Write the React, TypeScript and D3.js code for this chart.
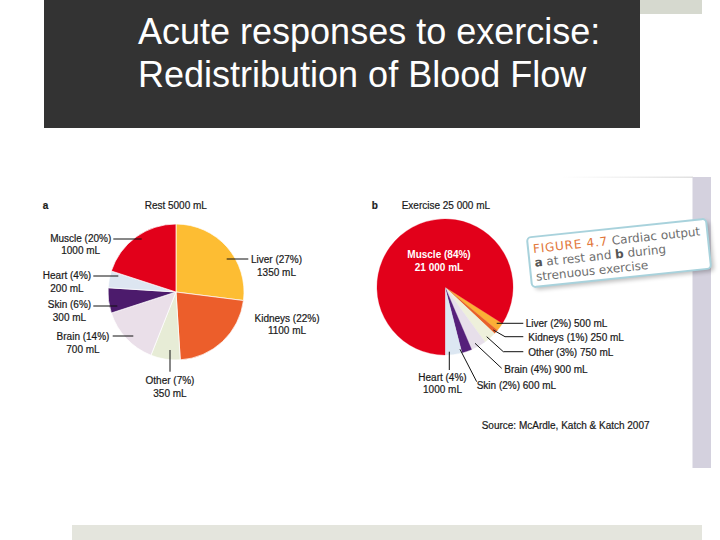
import React from 'react';
import * as d3 from 'd3';

// ---------- data ----------
const organs = ['Liver', 'Kidneys', 'Other', 'Brain', 'Skin', 'Heart', 'Muscle'];
const restFlow = [1350, 1100, 350, 700, 300, 200, 1000];
const restPct = [27, 22, 7, 14, 6, 4, 20];
const exerciseFlow = [500, 250, 750, 900, 600, 1000, 21000];
const exercisePct = [2, 1, 3, 4, 2, 4, 84];
const restTotal = 5000;
const exerciseTotal = 25000;
const restColors = ['#FDBD33', '#EC5E2B', '#E7ECD6', '#EADFE9', '#4C1B6C', '#DDE6F1', '#E2001A'];
const exerciseColors = ['#FBAF36', '#E8612A', '#EEF0DB', '#E7DFEA', '#55207A', '#DCE7F2', '#E2001A'];

const titleLines = ['Acute responses to exercise:', 'Redistribution of Blood Flow'];
const sourceText = 'Source: McArdle, Katch & Katch 2007';

// ---------- annotation layout ----------
type Pt = [number, number];
const restLabelLayout: { x: number; y: number; line: Pt[] | null }[] = [
  { x: 276.5, y: 263.3, line: [[226.7, 259], [248.3, 259]] },
  { x: 287, y: 321.7, line: null },
  { x: 170, y: 384.3, line: [[170, 350], [170, 371.7]] },
  { x: 83, y: 340, line: [[112.7, 336], [133.3, 336]] },
  { x: 69.5, y: 308.3, line: [[93.3, 306], [117.3, 306]] },
  { x: 67, y: 279.3, line: [[93.3, 276], [118.3, 276]] },
  { x: 80.7, y: 241.7, line: [[113.3, 239], [141.7, 239]] },
];
const exLabelLayout: { x: number; y: number; anchor: string; twoLine: boolean; line: Pt[] | null }[] = [
  { x: 525.7, y: 326.7, anchor: 'start', twoLine: false, line: [[496.7, 323.3], [523.3, 323.3]] },
  { x: 528.3, y: 340.7, anchor: 'start', twoLine: false, line: [[493.3, 330], [505, 336.7], [523.3, 336.7]] },
  { x: 528.3, y: 355.7, anchor: 'start', twoLine: false, line: [[486.7, 336.7], [503.3, 351.7], [523.3, 351.7]] },
  { x: 504.3, y: 372.7, anchor: 'start', twoLine: false, line: [[475, 343.3], [501.7, 368.3]] },
  { x: 476.7, y: 389, anchor: 'start', twoLine: false, line: [[460, 349.3], [476.7, 381.7]] },
  { x: 442.5, y: 380.7, anchor: 'middle', twoLine: true, line: [[449.3, 351.7], [449.3, 370]] },
  { x: 439, y: 258.3, anchor: 'middle', twoLine: true, line: null },
];

const LABEL_FONT = "'Liberation Sans', Arial, sans-serif";
const LABEL_SIZE = 10;
const INK = '#1a1a1a';

const fmt = (v: number) => (v >= 10000 ? d3.format(',')(v).replace(/,/g, ' ') : String(v));

export default function App() {
  const arcRest = d3.arc<d3.PieArcDatum<number>>().innerRadius(0).outerRadius(68);
  const arcEx = d3.arc<d3.PieArcDatum<number>>().innerRadius(0).outerRadius(68);

  const pieRest = d3.pie<number>().sort(null).value((d) => d).startAngle(0).endAngle(2 * Math.PI)(restFlow);

  const smallSum = d3.sum(exerciseFlow.slice(0, exerciseFlow.length - 1));
  const exStart = Math.PI - (2 * Math.PI * smallSum) / exerciseTotal;
  const pieEx = d3.pie<number>().sort(null).value((d) => d).startAngle(exStart).endAngle(exStart + 2 * Math.PI)(exerciseFlow);

  const line = d3.line<Pt>();

  const restCx = 176, restCy = 292;
  const exCx = 445, exCy = 287;

  const labelProps = { fontFamily: LABEL_FONT, fontSize: LABEL_SIZE, fill: INK, stroke: INK, strokeWidth: 0.2 };

  return (
    <svg
      width={720}
      height={540}
      viewBox="0 0 720 540"
      style={{ position: 'absolute', left: 0, top: 0, display: 'block', background: '#fff' }}
    >
      <defs>
        <filter id="shadow" x="-20%" y="-40%" width="140%" height="180%">
          <feGaussianBlur stdDeviation="2" />
        </filter>
        <linearGradient id="fadeLine" x1="0" x2="1" y1="0" y2="0">
          <stop offset="0" stopColor="#e6e6e6" stopOpacity="0" />
          <stop offset="1" stopColor="#e0e0e0" stopOpacity="1" />
        </linearGradient>
      </defs>

      {/* slide decorations */}
      <rect x={640} y={0} width={62} height={14} fill="#D6D9CF" />
      <rect x={72} y={525} width={630} height={15} fill="#E4E5DD" />
      <rect x={560} y={176.5} width={133} height={1.5} fill="url(#fadeLine)" />
      <rect x={692.5} y={177} width={18.5} height={291} fill="#D4D1DE" />

      {/* title box */}
      <rect x={44} y={0} width={596} height={128} fill="#333333" />
      {titleLines.map((t, i) => (
        <text
          key={i}
          x={138}
          y={44 + i * 43}
          fill="#ffffff"
          fontFamily="'Liberation Sans', Arial, sans-serif"
          fontSize={36}
        >
          {t}
        </text>
      ))}

      {/* panel a */}
      <text x={42.7} y={209.3} {...labelProps} fontWeight="bold">a</text>
      <text x={175.8} y={209.3} textAnchor="middle" {...labelProps}>
        {`Rest ${fmt(restTotal)} mL`}
      </text>
      <g transform={`translate(${restCx},${restCy})`}>
        {pieRest.map((d, i) => (
          <path key={i} d={arcRest(d) || ''} fill={restColors[i]} stroke="#fff" strokeWidth={0.7} />
        ))}
      </g>
      {restLabelLayout.map((L, i) => (
        <g key={i}>
          {L.line && <path d={line(L.line) || ''} stroke="#111" strokeWidth={1} fill="none" />}
          <text x={L.x} y={L.y} textAnchor="middle" {...labelProps}>
            {`${organs[i]} (${restPct[i]}%)`}
          </text>
          <text x={L.x} y={L.y + 12.5} textAnchor="middle" {...labelProps}>
            {`${fmt(restFlow[i])} mL`}
          </text>
        </g>
      ))}

      {/* panel b */}
      <text x={371.7} y={209.3} {...labelProps} fontWeight="bold">b</text>
      <text x={401.7} y={209.3} {...labelProps}>
        {`Exercise ${fmt(exerciseTotal)} mL`}
      </text>
      <g transform={`translate(${exCx},${exCy})`}>
        {pieEx.map((d, i) => (
          <path key={i} d={arcEx(d) || ''} fill={exerciseColors[i]} stroke={exerciseColors[i]} strokeWidth={0.3} />
        ))}
      </g>
      {exLabelLayout.map((L, i) => {
        const isMuscle = organs[i] === 'Muscle';
        const props = isMuscle
          ? { fontFamily: LABEL_FONT, fontSize: LABEL_SIZE, fill: '#ffffff', fontWeight: 'bold' }
          : labelProps;
        return (
          <g key={i}>
            {L.line && <path d={line(L.line) || ''} stroke="#111" strokeWidth={1} fill="none" />}
            {L.twoLine ? (
              <>
                <text x={L.x} y={L.y} textAnchor={L.anchor} {...props}>
                  {`${organs[i]} (${exercisePct[i]}%)`}
                </text>
                <text x={L.x} y={L.y + 12.5} textAnchor={L.anchor} {...props}>
                  {`${fmt(exerciseFlow[i])} mL`}
                </text>
              </>
            ) : (
              <text x={L.x} y={L.y} textAnchor={L.anchor} {...props}>
                {`${organs[i]} (${exercisePct[i]}%) ${fmt(exerciseFlow[i])} mL`}
              </text>
            )}
          </g>
        );
      })}

      {/* figure caption box */}
      <g transform="translate(619,253) rotate(-6)">
        <rect x={-87} y={-22} width={180} height={50} rx={4} fill="#000" opacity={0.25} filter="url(#shadow)" />
        <rect x={-90} y={-25} width={180} height={50} rx={4} fill="#fff" stroke="#A8D2DC" strokeWidth={2} />
        <g fontFamily="'DejaVu Sans', Verdana, sans-serif" fontSize={12} fill="#6e6e6e">
          <text x={-85} y={-9}>
            <tspan fill="#E2773A" letterSpacing={0.8}>FIGURE 4.7</tspan>
            <tspan> Cardiac output</tspan>
          </text>
          <text x={-85} y={5}>
            <tspan fontWeight="bold" fill="#555">a</tspan>
            <tspan> at rest and </tspan>
            <tspan fontWeight="bold" fill="#555">b</tspan>
            <tspan> during</tspan>
          </text>
          <text x={-85} y={19}>strenuous exercise</text>
        </g>
      </g>

      <text x={481.7} y={429.3} {...labelProps}>{sourceText}</text>
    </svg>
  );
}
